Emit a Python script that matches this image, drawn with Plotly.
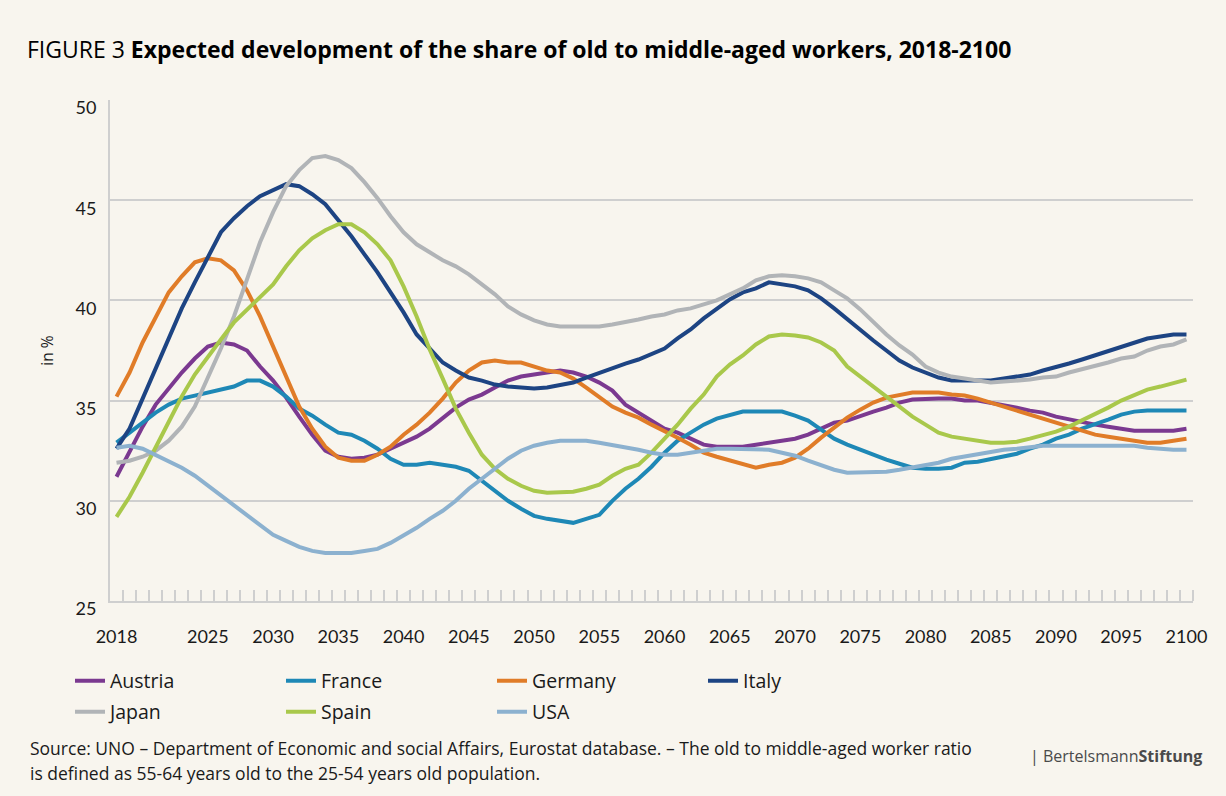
import plotly.graph_objects as go

years = list(range(2018, 2101))

austria = [31.2, 32.5, 33.7, 34.8, 35.6, 36.4, 37.1, 37.7, 37.9, 37.8,
           37.5, 36.7, 36.0, 35.15, 34.2, 33.3, 32.5, 32.2, 32.1, 32.15,
           32.3, 32.6, 32.9, 33.2, 33.6, 34.1, 34.65, 35.05, 35.3, 35.65,
           36.0, 36.2, 36.3, 36.4, 36.5, 36.4, 36.2, 35.9, 35.5, 34.8,
           34.4, 34.0, 33.6, 33.4, 33.1, 32.8, 32.7, 32.7, 32.7, 32.8,
           32.9, 33.0, 33.1, 33.3, 33.6, 33.9, 34.0, 34.25, 34.45, 34.65,
           34.9, 35.05, 35.1, 35.1, 35.1, 35.0, 35.0, 34.9, 34.8, 34.65,
           34.5, 34.4, 34.2, 34.05, 33.95, 33.8, 33.7, 33.6, 33.5, 33.5,
           33.5, 33.5, 33.6]

france = [32.9, 33.4, 33.9, 34.4, 34.8, 35.1, 35.25, 35.4, 35.5, 35.7,
          36.0, 36.0, 35.7, 35.2, 34.6, 34.25, 33.8, 33.4, 33.3, 33.0,
          32.6, 32.1, 31.8, 31.8, 31.9, 31.8, 31.7, 31.5, 31.0, 30.5,
          30.0, 29.6, 29.25, 29.1, 29.0, 28.9, 29.1, 29.3, 30.0, 30.6,
          31.1, 31.7, 32.4, 33.0, 33.4, 33.8, 34.1, 34.3, 34.45, 34.45,
          34.45, 34.45, 34.25, 34.0, 33.55, 33.1, 32.8, 32.55, 32.25, 32.05,
          31.85, 31.65, 31.6, 31.6, 31.65, 31.9, 31.95, 32.1, 32.25, 32.35,
          32.6, 32.8, 33.1, 33.3, 33.6, 33.8, 34.05, 34.3, 34.45, 34.5,
          34.5, 34.5, 34.5]

germany = [35.2, 36.4, 37.9, 39.2, 40.4, 41.2, 41.9, 42.1, 42.0, 41.5,
           40.5, 39.2, 37.7, 36.1, 34.7, 33.6, 32.7, 32.15, 32.0, 32.0,
           32.3, 32.7, 33.3, 33.8, 34.4, 35.1, 35.9, 36.5, 36.9, 37.0,
           36.9, 36.9, 36.7, 36.5, 36.4, 36.1, 35.65, 35.15, 34.7, 34.4,
           34.15, 33.8, 33.5, 33.15, 32.8, 32.4, 32.2, 32.0, 31.8, 31.65,
           31.8, 31.9, 32.15, 32.6, 33.15, 33.65, 34.15, 34.55, 34.9, 35.15,
           35.3, 35.4, 35.4, 35.4, 35.3, 35.25, 35.1, 34.9, 34.65, 34.45,
           34.25, 34.05, 33.9, 33.7, 33.5, 33.3, 33.2, 33.1, 33.0, 32.9,
           32.9, 33.0, 33.1]

italy = [32.6, 33.6, 35.1, 36.6, 38.1, 39.6, 40.9, 42.2, 43.4, 44.1,
         44.7, 45.2, 45.5, 45.8, 45.7, 45.3, 44.8, 44.0, 43.2, 42.3,
         41.4, 40.4, 39.4, 38.3, 37.6, 36.9, 36.5, 36.15, 36.0, 35.8,
         35.7, 35.65, 35.6, 35.65, 35.75, 35.9, 36.15, 36.4, 36.65, 36.85,
         37.05, 37.3, 37.6, 38.1, 38.55, 39.1, 39.6, 40.05, 40.4, 40.6,
         40.9, 40.8, 40.7, 40.5, 40.1, 39.6, 39.05, 38.5, 38.0, 37.5,
         37.0, 36.65, 36.4, 36.15, 36.0, 36.0, 36.0, 36.0, 36.1, 36.2,
         36.3, 36.5, 36.65, 36.85, 37.05, 37.25, 37.5, 37.7, 37.9, 38.1,
         38.2, 38.3, 38.3]

japan = [31.9, 32.0, 32.2, 32.5, 33.0, 33.7, 34.7, 36.1, 37.6, 39.2,
         41.0, 42.9, 44.4, 45.7, 46.5, 47.1, 47.2, 47.0, 46.6, 45.9,
         45.1, 44.2, 43.4, 42.8, 42.4, 42.0, 41.7, 41.3, 40.8, 40.3,
         39.7, 39.3, 39.0, 38.8, 38.7, 38.7, 38.7, 38.7, 38.8, 38.9,
         39.05, 39.2, 39.3, 39.5, 39.6, 39.8, 40.0, 40.3, 40.6, 41.0,
         41.2, 41.25, 41.2, 41.1, 40.9, 40.5, 40.1, 39.55, 38.9, 38.3,
         37.75, 37.3, 36.7, 36.4, 36.2, 36.1, 36.0, 35.9, 35.95, 36.0,
         36.05, 36.15, 36.2, 36.4, 36.55, 36.7, 36.9, 37.1, 37.2, 37.5,
         37.7, 37.8, 38.05]

spain = [29.2, 30.2, 31.4, 32.7, 34.0, 35.2, 36.3, 37.2, 38.05, 38.9,
         39.55, 40.2, 40.8, 41.7, 42.5, 43.1, 43.5, 43.8, 43.8, 43.4,
         42.8, 42.0, 40.7, 39.2, 37.55, 36.1, 34.6, 33.4, 32.3, 31.6,
         31.1, 30.75, 30.5, 30.4, 30.4, 30.45, 30.6, 30.8, 31.25, 31.6,
         31.8, 32.4, 33.1, 33.8, 34.6, 35.3, 36.2, 36.8, 37.25, 37.8,
         38.2, 38.3, 38.25, 38.15, 37.9, 37.5, 36.7, 36.2, 35.7, 35.2,
         34.7, 34.2, 33.8, 33.4, 33.2, 33.1, 33.0, 32.9, 32.9, 32.95,
         33.1, 33.25, 33.45, 33.7, 34.0, 34.3, 34.65, 35.0, 35.3, 35.55,
         35.7, 35.9, 36.05]

usa = [32.65, 32.75, 32.6, 32.3, 32.0, 31.65, 31.25, 30.75, 30.25, 29.75,
       29.25, 28.75, 28.3, 28.0, 27.7, 27.5, 27.4, 27.4, 27.4, 27.5,
       27.6, 27.9, 28.25, 28.65, 29.1, 29.5, 30.0, 30.6, 31.1, 31.6,
       32.1, 32.5, 32.75, 32.9, 33.0, 33.0, 33.0, 32.9, 32.8, 32.7,
       32.55, 32.4, 32.3, 32.3, 32.4, 32.55, 32.6, 32.6, 32.6, 32.6,
       32.55, 32.4, 32.25, 32.0, 31.75, 31.55, 31.4, 31.4, 31.4, 31.45,
       31.55, 31.65, 31.75, 31.9, 32.1, 32.2, 32.35, 32.45, 32.55, 32.6,
       32.7, 32.75, 32.75, 32.75, 32.75, 32.75, 32.75, 32.75, 32.75, 32.65,
       32.6, 32.55, 32.55]

x_tick_years = [2018, 2025, 2030, 2035, 2040, 2045, 2050, 2055, 2060, 2065,
                2070, 2075, 2080, 2085, 2090, 2095, 2100]
y_ticks = [25, 30, 35, 40, 45, 50]

series = [
    ("Austria", austria, "#7b3990", "legend"),
    ("France", france, "#1e88b6", "legend"),
    ("Germany", germany, "#e07c28", "legend"),
    ("Italy", italy, "#1d4483", "legend"),
    ("Japan", japan, "#b1b4b7", "legend2"),
    ("Spain", spain, "#a9c84b", "legend2"),
    ("USA", usa, "#8cb1cf", "legend2"),
]

BG = "#f8f5ee"
GRID = "#cfcfcf"
TXT = "#1a1a1a"

fig = go.Figure()
for name, vals, color, lg in series:
    fig.add_trace(go.Scatter(x=years, y=vals, name=name, mode="lines",
                             line=dict(color=color, width=4),
                             legend=lg, hoverinfo="x+y+name"))

minor_ticks = [y + 0.5 for y in range(2018, 2101)]

PW = 1083.0
PH = 501.0

def px_x(px):
    return (px - 110) / PW

def px_y(py):
    return (601 - py) / PH

fig.update_layout(
    width=1226, height=796,
    paper_bgcolor=BG, plot_bgcolor=BG,
    margin=dict(l=110, r=33, t=100, b=195),
    title=dict(text="FIGURE 3 <b>Expected development of the share of old to middle-aged workers, 2018-2100</b>",
               x=27/1226, xref="container", xanchor="left",
               y=1-50/796, yref="container", yanchor="middle",
               font=dict(family="Open Sans", size=23, color="#000000")),
    xaxis=dict(range=[2017.5, 2100.5], tickmode="array", tickvals=x_tick_years,
               ticktext=[str(v) for v in x_tick_years], ticks="",
               showgrid=False, showline=True, linecolor=GRID, linewidth=2,
               zeroline=False, ticklabelstandoff=18,
               tickfont=dict(family="Lato", size=18, color=TXT),
               minor=dict(tickmode="array", tickvals=minor_ticks, ticks="inside",
                          ticklen=11, tickcolor=GRID, tickwidth=1.5, showgrid=False)),
    yaxis=dict(range=[25, 50], tickmode="array", tickvals=y_ticks, ticks="",
               showgrid=True, gridcolor=GRID, gridwidth=2,
               showline=True, linecolor=GRID, linewidth=2, zeroline=False,
               ticklabelshift=8, ticklabelstandoff=8,
               tickfont=dict(family="Lato", size=18, color=TXT),
               title=dict(text="in %", standoff=18,
                          font=dict(family="Open Sans", size=15.5, color=TXT))),
    legend=dict(orientation="h", x=px_x(70), xanchor="left",
                y=px_y(681), yanchor="middle", entrywidth=166,
                bgcolor="rgba(0,0,0,0)",
                font=dict(family="Open Sans", size=19.5, color=TXT)),
    legend2=dict(orientation="h", x=px_x(70), xanchor="left",
                 y=px_y(712), yanchor="middle", entrywidth=166,
                 bgcolor="rgba(0,0,0,0)",
                 font=dict(family="Open Sans", size=19.5, color=TXT)),
    annotations=[
        dict(text="Source: UNO – Department of Economic and social Affairs, Eurostat database. – The old to middle-aged worker ratio",
             xref="paper", yref="paper", x=px_x(28), y=px_y(748),
             xanchor="left", yanchor="middle", align="left", showarrow=False,
             font=dict(family="Open Sans", size=17.5, color=TXT)),
        dict(text="is defined as 55-64 years old to the 25-54 years old population.",
             xref="paper", yref="paper", x=px_x(28), y=px_y(773),
             xanchor="left", yanchor="middle", align="left", showarrow=False,
             font=dict(family="Open Sans", size=17.5, color=TXT)),
        dict(text="| Bertelsmann<b>Stiftung</b>",
             xref="paper", yref="paper", x=px_x(1028), y=px_y(756),
             xanchor="left", yanchor="middle", showarrow=False,
             font=dict(family="Open Sans", size=16, color="#4a4a4a")),
    ],
)

fig.write_html("out.html", config={"displayModeBar": False},
               post_script="document.body.style.margin='0';")
